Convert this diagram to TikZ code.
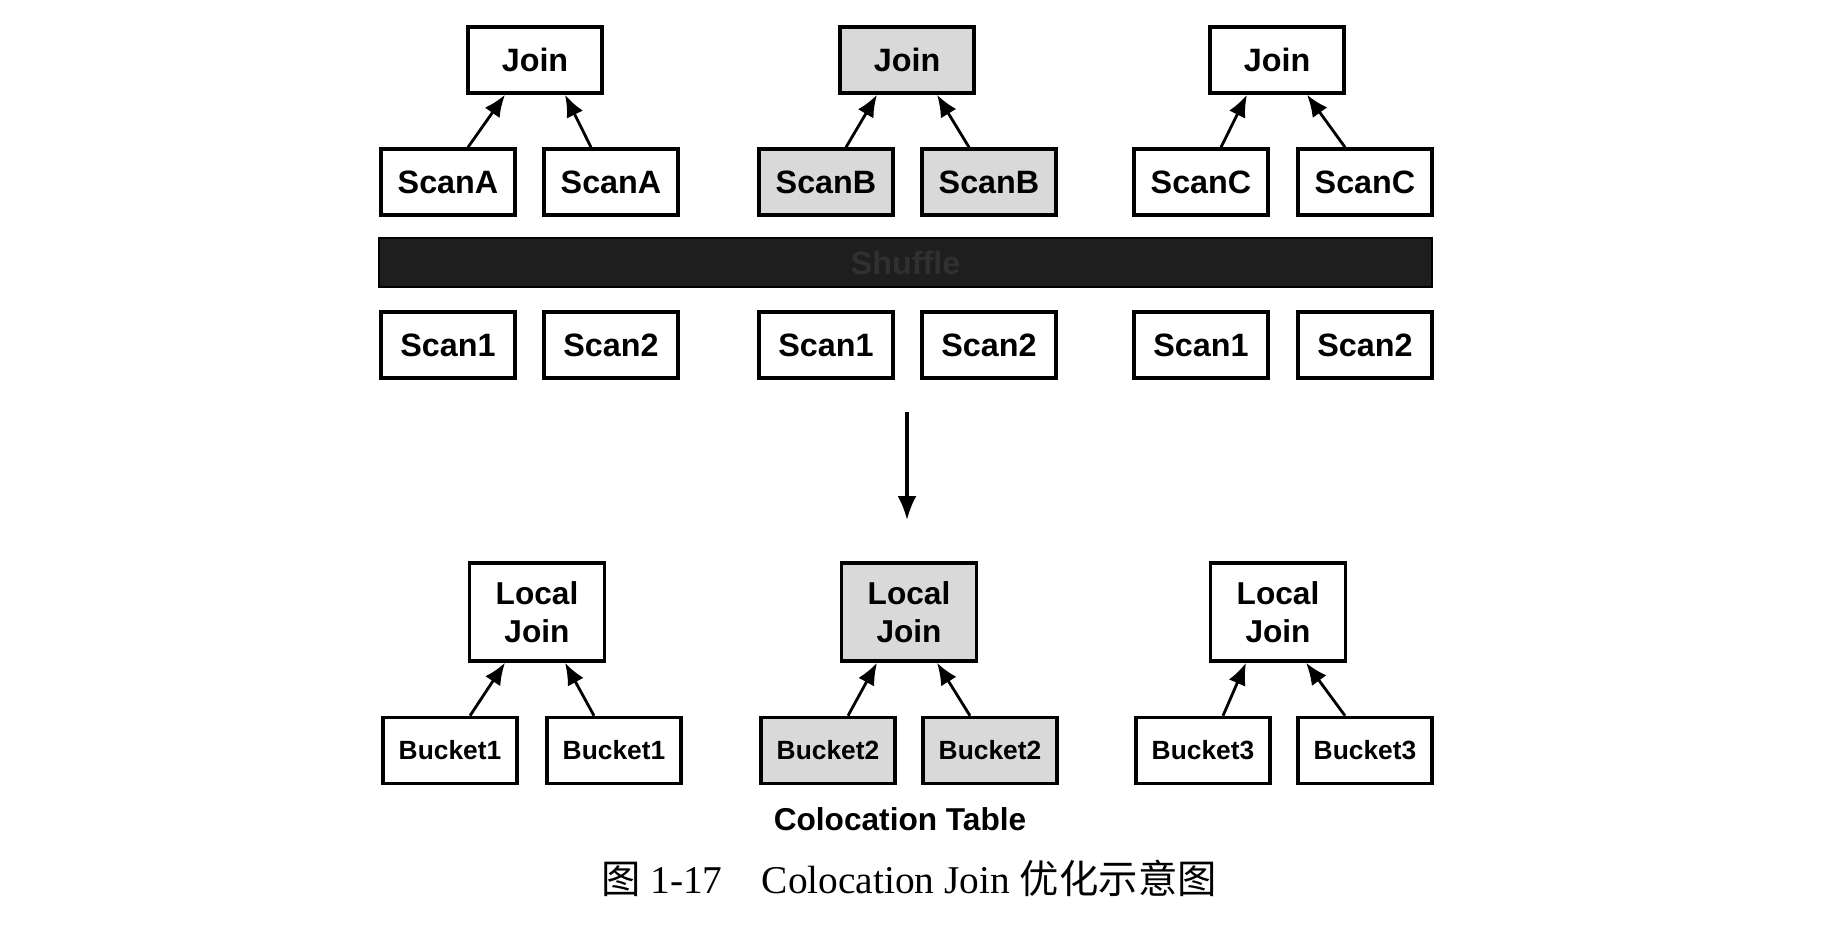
\documentclass[tikz,border=0pt]{standalone}
\usepackage{fontspec}
\setmainfont{Liberation Serif}
\setsansfont{Liberation Sans}
\newfontfamily\cjkfont{Noto Sans CJK SC}
\usetikzlibrary{arrows.meta}
\definecolor{shade}{HTML}{D9D9D9}
\definecolor{bar}{HTML}{1E1E1E}
\definecolor{bartext}{HTML}{303030}

\begin{document}
\begin{tikzpicture}[
  font=\sffamily\bfseries\fontsize{9.2}{11}\selectfont,
  box/.style={draw=black, line width=1pt, fill=white,
              minimum width=1.34cm, minimum height=0.66cm,
              inner sep=1pt, align=center},
  hot/.style={fill=shade},
  ljbox/.style={box, minimum width=1.35cm, minimum height=0.98cm,
                font=\sffamily\bfseries\fontsize{9}{10.8}\selectfont},
  bkt/.style={box, font=\sffamily\bfseries\fontsize{7.5}{9}\selectfont},
  ar/.style={-{Latex[length=2.2mm, width=1.8mm]}, line width=0.8pt, black}
]
\useasboundingbox (0,0) rectangle (18.42,9.26);

% --- row 1: joins ---
\node[box]     (j1)  at (5.35,8.66)  {Join};
\node[box,hot] (j2)  at (9.07,8.66)  {Join};
\node[box]     (j3)  at (12.77,8.66) {Join};

% --- row 2: scans ---
\node[box]     (sa1) at (4.48,7.44)  {ScanA};
\node[box]     (sa2) at (6.11,7.44)  {ScanA};
\node[box,hot] (sb1) at (8.26,7.44)  {ScanB};
\node[box,hot] (sb2) at (9.89,7.44)  {ScanB};
\node[box]     (sc1) at (12.01,7.44) {ScanC};
\node[box]     (sc2) at (13.65,7.44) {ScanC};

\draw[ar] ([xshift=2mm]sa1.north)  -- ([xshift=-3mm]j1.south);
\draw[ar] ([xshift=-2mm]sa2.north) -- ([xshift=3mm]j1.south);
\draw[ar] ([xshift=2mm]sb1.north)  -- ([xshift=-3mm]j2.south);
\draw[ar] ([xshift=-2mm]sb2.north) -- ([xshift=3mm]j2.south);
\draw[ar] ([xshift=2mm]sc1.north)  -- ([xshift=-3mm]j3.south);
\draw[ar] ([xshift=-2mm]sc2.north) -- ([xshift=3mm]j3.south);

% --- shuffle bar ---
\node[draw=black, fill=bar, text=bartext, minimum width=10.53cm,
      minimum height=0.49cm, inner sep=0pt] (shuf) at (9.055,6.635) {Shuffle};

% --- row 3: raw scans ---
\node[box] (s11) at (4.48,5.81)  {Scan1};
\node[box] (s12) at (6.11,5.81)  {Scan2};
\node[box] (s21) at (8.26,5.81)  {Scan1};
\node[box] (s22) at (9.89,5.81)  {Scan2};
\node[box] (s31) at (12.01,5.81) {Scan1};
\node[box] (s32) at (13.65,5.81) {Scan2};

% --- becomes ---
\coordinate (from) at (9.07,5.14);
\coordinate (to)   at (9.07,4.06);
\draw[-{Latex[length=2.4mm, width=1.9mm]}, line width=0.9pt] (from) -- (to);

% --- row 4: local joins ---
\node[ljbox]     (lj1) at (5.37,3.14)  {Local\\Join};
\node[ljbox,hot] (lj2) at (9.09,3.14)  {Local\\Join};
\node[ljbox]     (lj3) at (12.78,3.14) {Local\\Join};

% --- row 5: buckets ---
\node[bkt]     (b1a) at (4.50,1.755)  {Bucket1};
\node[bkt]     (b1b) at (6.14,1.755)  {Bucket1};
\node[bkt,hot] (b2a) at (8.28,1.755)  {Bucket2};
\node[bkt,hot] (b2b) at (9.90,1.755)  {Bucket2};
\node[bkt]     (b3a) at (12.03,1.755) {Bucket3};
\node[bkt]     (b3b) at (13.65,1.755) {Bucket3};

\draw[ar] ([xshift=2mm]b1a.north)  -- ([xshift=-3.2mm]lj1.south);
\draw[ar] ([xshift=-2mm]b1b.north) -- ([xshift=2.8mm]lj1.south);
\draw[ar] ([xshift=2mm]b2a.north)  -- ([xshift=-3.2mm]lj2.south);
\draw[ar] ([xshift=-2mm]b2b.north) -- ([xshift=2.8mm]lj2.south);
\draw[ar] ([xshift=2mm]b3a.north)  -- ([xshift=-3.2mm]lj3.south);
\draw[ar] ([xshift=-2mm]b3b.north) -- ([xshift=2.8mm]lj3.south);

\node[anchor=base, font=\sffamily\bfseries\fontsize{9}{11}\selectfont]
  (ctab) at (9.0,0.96) {Colocation Table};

\node[anchor=base, font=\rmfamily\fontsize{11.2}{13}\selectfont]
  (cap) at (9.09,0.33) {{\cjkfont 图} 1-17\quad Colocation Join {\cjkfont 优化示意图}};
\end{tikzpicture}
\end{document}
